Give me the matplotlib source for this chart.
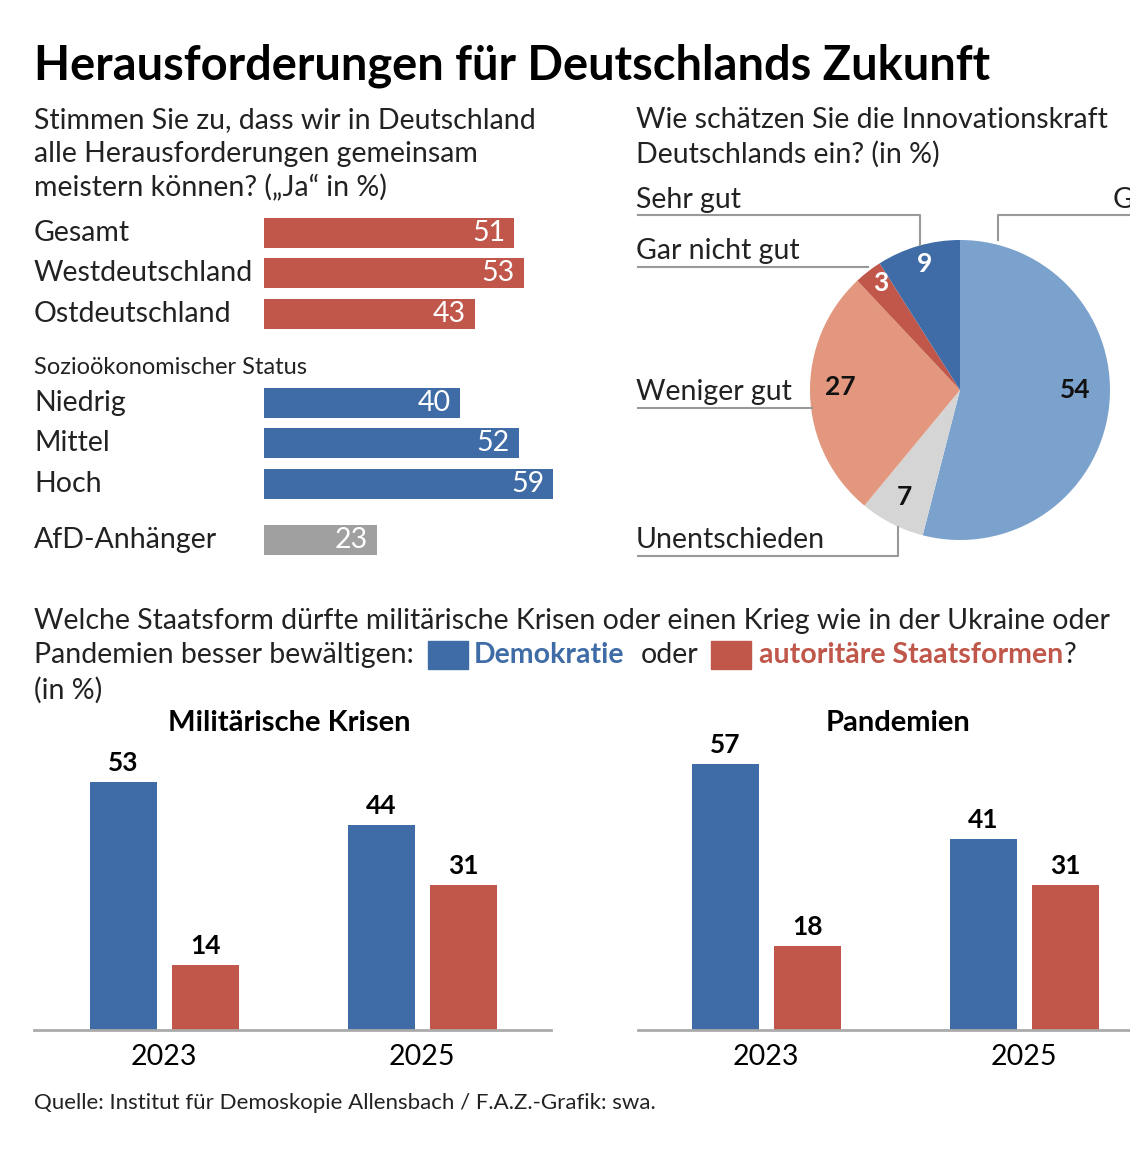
import matplotlib.pyplot as plt
from matplotlib.patches import Rectangle

plt.rcParams['font.family'] = ['Lato', 'DejaVu Sans']

RED = '#c0574a'
BLUE = '#3f6ca6'
GREY = '#a0a0a0'

hbar_labels = ['Gesamt', 'Westdeutschland', 'Ostdeutschland', 'Niedrig', 'Mittel', 'Hoch', 'AfD-Anhänger']
hbar_values = [51, 53, 43, 40, 52, 59, 23]
hbar_colors = [RED, RED, RED, BLUE, BLUE, BLUE, GREY]
hbar_rows = [233, 273, 314, 403, 443, 484, 540]

pie_values = [54, 7, 27, 3, 9]
pie_colors = ['#7ba1cd', '#d5d5d5', '#e2977e', RED, BLUE]

years = ['2023', '2025']
mil_demo = [53, 44]
mil_auto = [14, 31]
pan_demo = [57, 41]
pan_auto = [18, 31]

W, H = 1130, 1159
fig = plt.figure(figsize=(W / 100, H / 100), dpi=100)
FS = 20.5


def P(x, y):
    return x / W, 1 - y / H


def box(x0, y0, x1, y1):
    return [x0 / W, 1 - y1 / H, (x1 - x0) / W, (y1 - y0) / H]


def txt(x, y, s, size=FS, **kw):
    fig.text(*P(x, y), s, fontsize=size, va='center', **kw)


txt(34, 66, 'Herausforderungen für Deutschlands Zukunft', 33.8, fontweight='bold')
for i, line in enumerate(['Stimmen Sie zu, dass wir in Deutschland',
                          'alle Herausforderungen gemeinsam',
                          'meistern können? („Ja“ in %)']):
    txt(34, 120 + 34 * i, line, color='#222')
for i, line in enumerate(['Wie schätzen Sie die Innovationskraft',
                          'Deutschlands ein? (in %)']):
    txt(636, 120 + 34 * i, line, color='#222')
txt(34, 367, 'Sozioökonomischer Status', 17, color='#222')

# horizontal bars
ax = fig.add_axes(box(264, 200, 1130, 570))
ax.set_xlim(0, (1130 - 264) / 4.9)
ax.set_ylim(570, 200)
ax.barh(hbar_rows, hbar_values, height=30, color=hbar_colors)
for y, v, lab in zip(hbar_rows, hbar_values, hbar_labels):
    ax.text(v - 1.8, y, str(v), color='white', fontsize=FS, ha='right', va='center')
    txt(34, y, lab, color='#222')
ax.axis('off')

# pie
pax = fig.add_axes(box(810, 240, 1110, 540))
pax.pie(pie_values, colors=pie_colors, startangle=90, counterclock=False,
        wedgeprops=dict(edgecolor='none'))
pax.set_xlim(-1, 1)
pax.set_ylim(-1, 1)
lab_pos = [(1075, 390, '54'), (904, 497, '7'), (840, 387, '27'), (881, 283, '3'), (925, 264, '9')]
for x, y, s in lab_pos:
    color = 'white' if s in ('3', '9') else '#111'
    txt(x, y, s, 19, fontweight='bold', color=color, ha='center')

lax = fig.add_axes([0, 0, 1, 1])
lax.set_xlim(0, W)
lax.set_ylim(H, 0)
lax.axis('off')
lc = '#999999'
lax.plot([638, 920, 920], [215, 215, 245], color=lc, lw=1.5)
lax.plot([638, 868], [267, 267], color=lc, lw=1.5)
lax.plot([638, 812], [408, 408], color=lc, lw=1.5)
lax.plot([638, 898, 898], [556, 556, 527], color=lc, lw=1.5)
lax.plot([998, 998, 1130], [240, 215, 215], color=lc, lw=1.5)
txt(636, 200, 'Sehr gut', color='#222')
txt(636, 251, 'Gar nicht gut', color='#222')
txt(636, 392, 'Weniger gut', color='#222')
txt(636, 540, 'Unentschieden', color='#222')
txt(1113, 200, 'G', color='#222')

# bottom subtitle with legend
txt(34, 621, 'Welche Staatsform dürfte militärische Krisen oder einen Krieg wie in der Ukraine oder', color='#222')
txt(34, 655, 'Pandemien besser bewältigen:', color='#222')
lax.add_patch(Rectangle((428, 641), 40, 28, color=BLUE))
txt(474, 655, 'Demokratie', color=BLUE, fontweight='bold')
txt(641, 655, 'oder', color='#222')
lax.add_patch(Rectangle((711, 641), 40, 28, color=RED))
txt(759, 655, 'autoritäre Staatsformen', color=RED, fontweight='bold')
txt(1064, 655, '?', color='#222')
txt(34, 690, '(in %)', color='#222')


def grouped(x0, x1, c2023, title, tx, demo, auto):
    a = fig.add_axes(box(x0, 740, x1, 1030))
    sp = 258
    a.set_xlim(-(c2023 - x0) / sp, (x1 - c2023) / sp)
    a.set_ylim(0, 290 / 4.67)
    xs = range(len(years))
    off, bw = 41 / sp, 67 / sp
    a.bar([x - off for x in xs], demo, bw, color=BLUE)
    a.bar([x + off for x in xs], auto, bw, color=RED)
    for x, d, r in zip(xs, demo, auto):
        a.text(x - off, d + 1.5, str(d), ha='center', va='bottom', fontsize=19, fontweight='bold')
        a.text(x + off, r + 1.5, str(r), ha='center', va='bottom', fontsize=19, fontweight='bold')
    for s in ['top', 'right', 'left']:
        a.spines[s].set_visible(False)
    a.spines['bottom'].set_color('#aaa')
    a.spines['bottom'].set_linewidth(2)
    a.set_yticks([])
    a.set_xticks(list(xs), years, fontsize=FS)
    a.tick_params(axis='x', length=0, pad=10)
    txt(tx, 723, title, 21, fontweight='bold', ha='center')


grouped(34, 551, 164, 'Militärische Krisen', 289, mil_demo, mil_auto)
grouped(638, 1130, 766, 'Pandemien', 898, pan_demo, pan_auto)

txt(34, 1103, 'Quelle: Institut für Demoskopie Allensbach / F.A.Z.-Grafik: swa.', 16, color='#222')

fig.savefig('out.png', dpi=100, facecolor='white')
